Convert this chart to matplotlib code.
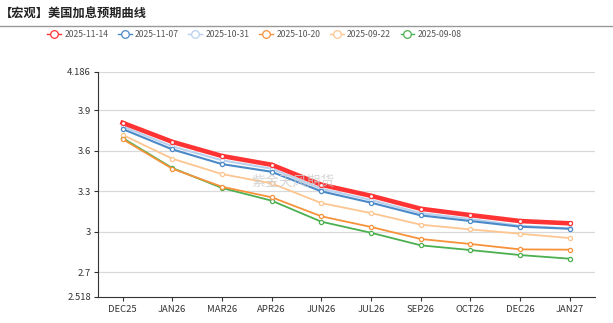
import matplotlib
matplotlib.use("Agg")
import matplotlib.pyplot as plt
from matplotlib.lines import Line2D

plt.rcParams['font.family'] = ['Noto Sans CJK SC', 'DejaVu Sans']

months = ["DEC25", "JAN26", "MAR26", "APR26", "JUN26", "JUL26", "SEP26", "OCT26", "DEC26", "JAN27"]

d_1114 = [3.808, 3.667, 3.562, 3.497, 3.349, 3.267, 3.171, 3.124, 3.080, 3.063]
d_1107 = [3.762, 3.611, 3.502, 3.445, 3.300, 3.216, 3.122, 3.080, 3.038, 3.023]
d_1031 = [3.781, 3.633, 3.530, 3.468, 3.319, 3.236, 3.139, 3.095, 3.045, 3.025]
d_1020 = [3.687, 3.468, 3.334, 3.256, 3.115, 3.036, 2.947, 2.910, 2.870, 2.868]
d_0922 = [3.719, 3.542, 3.428, 3.359, 3.213, 3.139, 3.053, 3.018, 2.986, 2.954]
d_0908 = [3.695, 3.473, 3.325, 3.231, 3.075, 2.993, 2.900, 2.865, 2.828, 2.801]

series = [
    ("2025-11-14", d_1114, "#ff3333", 3.3),
    ("2025-11-07", d_1107, "#4a8ac8", 1.5),
    ("2025-10-31", d_1031, "#b9d1ee", 1.5),
    ("2025-10-20", d_1020, "#f7923a", 1.3),
    ("2025-09-22", d_0922, "#fdc590", 1.3),
    ("2025-09-08", d_0908, "#4caf50", 1.3),
]

y_ticks = [2.518, 2.7, 3, 3.3, 3.6, 3.9, 4.186]
y_labels = ["2.518", "2.7", "3", "3.3", "3.6", "3.9", "4.186"]

fig = plt.figure(figsize=(6.13, 3.23), dpi=100)
ax = fig.add_axes([0.1594, 0.0808, 0.8108, 0.697])

x = list(range(len(months)))
# draw in reverse so the first series sits on top
for name, vals, col, lw in reversed(series):
    ax.plot(x, vals, color=col, lw=lw, marker="o", ms=3.0, mfc="white",
            mec=col, mew=0.9, zorder=3, solid_joinstyle="round")

ax.set_xlim(-0.5, len(months) - 0.5)
ax.set_ylim(2.518, 4.186)
ax.set_xticks(x)
ax.set_xticklabels(months)
ax.set_yticks(y_ticks)
ax.set_yticklabels(y_labels)
for v in y_ticks[1:]:
    ax.axhline(v, color="#d9d9d9", lw=0.9, zorder=1)

for s in ["top", "right"]:
    ax.spines[s].set_visible(False)
ax.spines["left"].set_color("#333333")
ax.spines["bottom"].set_color("#333333")
ax.tick_params(axis="x", length=3, color="#333333", labelsize=6.8, labelcolor="#333333", pad=3)
ax.tick_params(axis="y", length=3, color="#333333", labelsize=6.8, labelcolor="#333333", pad=2)

# title and separator
fig.text(0.0, 0.955, "【宏观】美国加息预期曲线", fontsize=8.8, fontweight="bold",
         color="#222222", va="center", ha="left")
fig.add_artist(Line2D([0, 1], [0.918, 0.918], transform=fig.transFigure,
                      color="#999999", lw=1.0))

# legend
handles = [Line2D([], [], color=col, lw=1.0, marker="o", ms=5.5, mfc="white", mec=col, mew=0.9)
           for name, vals, col, lw in series]
fig.legend(handles, [s[0] for s in series], loc="center", bbox_to_anchor=(0.415, 0.892),
           ncol=6, frameon=False, fontsize=6.2, handlelength=1.6, handletextpad=0.4,
           columnspacing=1.1, labelcolor="#555555")

# watermark
fig.text(0.411, 0.437, "紫金天风期货", fontsize=10, color="#cccccc", alpha=0.8,
         ha="left", va="center")

fig.savefig("out.png", dpi=100)
